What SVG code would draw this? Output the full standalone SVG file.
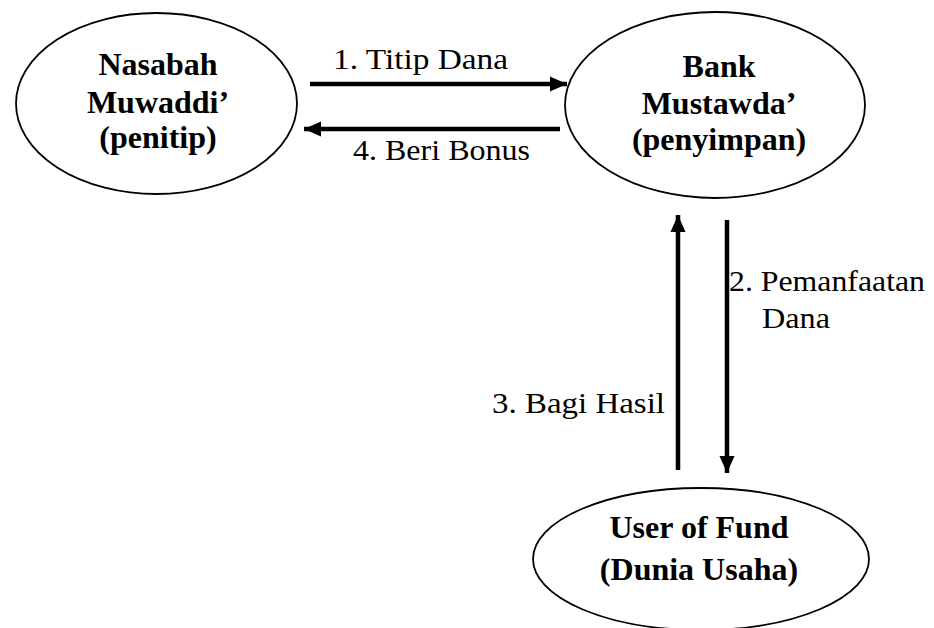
<svg xmlns="http://www.w3.org/2000/svg" width="934" height="628" viewBox="0 0 934 628">
  <style>
    .node ellipse { fill: #ffffff; stroke: #000000; stroke-width: 1.8; }
    .title { font-family: "Liberation Serif", "Times New Roman", serif; font-weight: bold; font-size: 32px; fill: #000000; text-anchor: middle; }
    .label { font-family: "Liberation Serif", "Times New Roman", serif; font-size: 30px; fill: #000000; }
    .flow { stroke: #000000; stroke-width: 4.5; fill: none; marker-end: url(#head); }
  </style>
  <defs>
    <marker id="head" markerUnits="userSpaceOnUse" markerWidth="18" markerHeight="16" refX="17" refY="8" orient="auto">
      <path d="M0,0.5 L17,8 L0,15.5 z" fill="#000000"/>
    </marker>
  </defs>
  <rect width="934" height="628" fill="#ffffff"/>

  <g id="nasabah" class="node">
    <ellipse cx="156.5" cy="103.5" rx="140.5" ry="90.5"/>
    <text class="title" x="158" y="75">Nasabah</text>
    <text class="title" x="158" y="113">Muwaddi’</text>
    <text class="title" x="158" y="148">(penitip)</text>
  </g>

  <g id="bank" class="node">
    <ellipse cx="715" cy="105" rx="150" ry="93"/>
    <text class="title" x="719" y="77">Bank</text>
    <text class="title" x="719" y="114">Mustawda’</text>
    <text class="title" x="719" y="150">(penyimpan)</text>
  </g>

  <g id="user-of-fund" class="node">
    <ellipse cx="701" cy="559" rx="168" ry="71"/>
    <text class="title" x="699" y="538">User of Fund</text>
    <text class="title" x="699" y="580">(Dunia Usaha)</text>
  </g>

  <g id="connectors">
    <line class="flow" x1="310" y1="84" x2="567" y2="84"/>
    <line class="flow" x1="560" y1="129" x2="304" y2="129"/>
    <line class="flow" x1="727" y1="220" x2="727" y2="473"/>
    <line class="flow" x1="678" y1="470" x2="678" y2="215"/>
  </g>

  <g id="labels">
    <text class="label" x="333" y="69" textLength="175" lengthAdjust="spacingAndGlyphs">1. Titip Dana</text>
    <text class="label" x="353" y="160" textLength="177" lengthAdjust="spacingAndGlyphs">4. Beri Bonus</text>
    <text class="label" x="729" y="291" textLength="196" lengthAdjust="spacingAndGlyphs">2. Pemanfaatan</text>
    <text class="label" x="762" y="328" textLength="68" lengthAdjust="spacingAndGlyphs">Dana</text>
    <text class="label" x="492" y="413" textLength="173" lengthAdjust="spacingAndGlyphs">3. Bagi Hasil</text>
  </g>
</svg>
